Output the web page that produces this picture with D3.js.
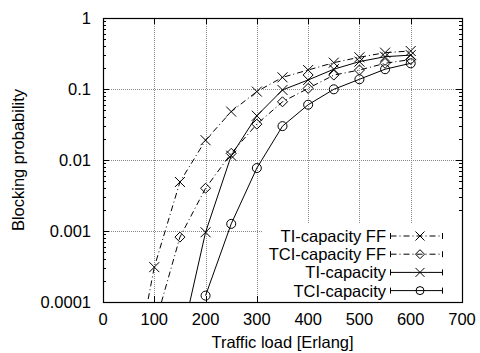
<!DOCTYPE html>
<html lang="en">
<head>
  <meta charset="UTF-8">
  <title>Blocking probability</title>
  <script src="https://cdn.jsdelivr.net/npm/d3@7"></script>
  <style>
    body { margin: 0; background: #fff; }
    text { font-family: "Liberation Sans", Arial, sans-serif; fill: #000; }
  </style>
</head>
<body>
  <svg id="chart"></svg>
  <script>
    // data (points below 1e-4 are clipped by the axis)
    var tiFFLoad = [50, 100, 150, 200, 250, 300, 350, 400, 450, 500, 550, 600];
    var tiFF = [4e-6, 0.00031, 0.0049, 0.019, 0.048, 0.092, 0.146, 0.185, 0.235, 0.28, 0.325, 0.343];
    var tciFFLoad = [100, 150, 200, 250, 300, 350, 400, 450, 500, 550, 600];
    var tciFF = [4.4e-5, 0.00082, 0.004, 0.0124, 0.032, 0.066, 0.102, 0.157, 0.185, 0.23, 0.26];
    var tiCapLoad = [150, 200, 250, 300, 350, 400, 450, 500, 550, 600];
    var tiCap = [2.4e-5, 0.00096, 0.0115, 0.042, 0.097, 0.134, 0.19, 0.243, 0.285, 0.30];
    var tciCapLoad = [200, 250, 300, 350, 400, 450, 500, 550, 600];
    var tciCap = [0.000123, 0.00126, 0.0077, 0.030, 0.060, 0.099, 0.137, 0.19, 0.23];

    var xTicks = [0, 100, 200, 300, 400, 500, 600, 700];
    var yTicks = [0.0001, 0.001, 0.01, 0.1, 1];
    var yTickLabels = ["0.0001", "0.001", "0.01", "0.1", "1"];

    var series = [
      { name: "TI-capacity FF", x: tiFFLoad, y: tiFF, dash: "6,3,1,3", mark: "cross" },
      { name: "TCI-capacity FF", x: tciFFLoad, y: tciFF, dash: "6,3,1,3", mark: "diamond" },
      { name: "TI-capacity", x: tiCapLoad, y: tiCap, dash: null, mark: "cross" },
      { name: "TCI-capacity", x: tciCapLoad, y: tciCap, dash: null, mark: "circle" }
    ];

    var width = 480, height = 353;
    var margin = { top: 18, right: 18, bottom: 51, left: 103 };
    var w = width - margin.left - margin.right;
    var h = height - margin.top - margin.bottom;

    var svg = d3.select("#chart").attr("width", width).attr("height", height);
    var g = svg.append("g").attr("transform", "translate(" + margin.left + "," + margin.top + ")");

    var x = d3.scaleLinear().domain([0, 700]).range([0, w]);
    var y = d3.scaleLog().domain([0.0001, 1]).range([h, 0]);

    svg.append("defs").append("clipPath").attr("id", "clip")
      .append("rect").attr("width", w).attr("height", h);

    // grid
    var grid = g.append("g").attr("stroke", "#888").attr("stroke-width", 1)
      .attr("stroke-dasharray", "1,1");
    xTicks.slice(1, -1).forEach(function(t) {
      grid.append("line").attr("x1", Math.round(x(t)) + 0.5).attr("x2", Math.round(x(t)) + 0.5)
        .attr("y1", 0).attr("y2", h);
    });
    yTicks.slice(1, -1).forEach(function(t) {
      grid.append("line").attr("y1", Math.round(y(t)) + 0.5).attr("y2", Math.round(y(t)) + 0.5)
        .attr("x1", 0).attr("x2", w);
    });

    // ticks on all four sides
    var ticks = g.append("g").attr("stroke", "#000").attr("stroke-width", 1);
    xTicks.forEach(function(t) {
      var px = Math.round(x(t)) + 0.5;
      ticks.append("line").attr("x1", px).attr("x2", px).attr("y1", h).attr("y2", h - 6);
      ticks.append("line").attr("x1", px).attr("x2", px).attr("y1", 0).attr("y2", 6);
    });
    var minor = [];
    for (var e = -4; e < 0; e++) {
      for (var m = 2; m < 10; m++) minor.push(m * Math.pow(10, e));
    }
    minor.forEach(function(t) {
      var py = Math.round(y(t)) + 0.5;
      ticks.append("line").attr("x1", 0).attr("x2", 3).attr("y1", py).attr("y2", py);
      ticks.append("line").attr("x1", w).attr("x2", w - 3).attr("y1", py).attr("y2", py);
    });
    yTicks.forEach(function(t) {
      var py = Math.round(y(t)) + 0.5;
      ticks.append("line").attr("x1", 0).attr("x2", 6).attr("y1", py).attr("y2", py);
      ticks.append("line").attr("x1", w).attr("x2", w - 6).attr("y1", py).attr("y2", py);
    });

    // tick labels
    g.append("g").selectAll("text").data(xTicks).enter().append("text")
      .attr("x", function(d) { return x(d); })
      .attr("y", h + 23)
      .attr("text-anchor", "middle")
      .style("font-size", "16.5px")
      .text(function(d) { return d; });
    g.append("g").selectAll("text").data(yTicks).enter().append("text")
      .attr("x", -12)
      .attr("y", function(d) { return y(d) + 6; })
      .attr("text-anchor", "end")
      .style("font-size", "16.5px")
      .text(function(d, i) { return yTickLabels[i]; });

    // axis titles
    svg.append("text").attr("x", margin.left + w / 2).attr("y", 348)
      .attr("text-anchor", "middle").style("font-size", "16.5px")
      .text("Traffic load [Erlang]");
    svg.append("text").attr("transform", "translate(24," + (margin.top + h / 2) + ") rotate(-90)")
      .attr("text-anchor", "middle").style("font-size", "16.5px")
      .text("Blocking probability");

    function drawMark(sel, type, r) {
      if (type === "cross") {
        sel.append("path").attr("d", "M" + -r + "," + -r + "L" + r + "," + r + "M" + -r + "," + r + "L" + r + "," + -r)
          .attr("stroke", "#000").attr("fill", "none");
      } else if (type === "diamond") {
        sel.append("path").attr("d", "M0," + -r + "L" + r + ",0L0," + r + "L" + -r + ",0Z")
          .attr("stroke", "#000").attr("fill", "none");
      } else {
        sel.append("circle").attr("r", r - 0.5)
          .attr("stroke", "#000").attr("fill", "none");
      }
    }

    var line = d3.line()
      .x(function(d) { return x(d[0]); })
      .y(function(d) { return y(d[1]); });

    var plot = g.append("g").attr("clip-path", "url(#clip)");
    series.forEach(function(s) {
      var pts = s.x.map(function(v, i) { return [v, s.y[i]]; });
      plot.append("path").datum(pts)
        .attr("d", line)
        .attr("fill", "none").attr("stroke", "#000").attr("stroke-width", 1)
        .attr("stroke-dasharray", s.dash);
      plot.selectAll(null).data(pts.filter(function(p) { return p[1] >= 0.0001; }))
        .enter().append("g")
        .attr("transform", function(p) { return "translate(" + x(p[0]) + "," + y(p[1]) + ")"; })
        .each(function() { drawMark(d3.select(this), s.mark, 5); });
    });

    // legend (opaque)
    var lg = g.append("g");
    lg.append("rect").attr("x", 262 - margin.left).attr("y", 224 - margin.top)
      .attr("width", margin.left + w - 262).attr("height", margin.top + h - 224)
      .attr("fill", "#fff");
    series.forEach(function(s, i) {
      var cy = 236 - margin.top + i * 18.2;
      lg.append("text").attr("x", 386 - margin.left).attr("y", cy + 6)
        .attr("text-anchor", "end").style("font-size", "16.5px").text(s.name);
      var x1 = 390.5 - margin.left, x2 = 442.5 - margin.left;
      lg.append("line").attr("x1", x1).attr("x2", x2).attr("y1", cy).attr("y2", cy)
        .attr("stroke", "#000").attr("stroke-dasharray", s.dash);
      [x1, x2].forEach(function(cx) {
        lg.append("line").attr("x1", cx).attr("x2", cx).attr("y1", cy - 3).attr("y2", cy + 3)
          .attr("stroke", "#000");
      });
      var mk = lg.append("g").attr("transform", "translate(" + (420 - margin.left) + "," + cy + ")");
      drawMark(mk, s.mark, 4.5);
    });

    // border
    g.append("rect").attr("x", 0.5).attr("y", 0.5).attr("width", w).attr("height", h)
      .attr("fill", "none").attr("stroke", "#000").attr("stroke-width", 1.2);
  </script>
</body>
</html>
